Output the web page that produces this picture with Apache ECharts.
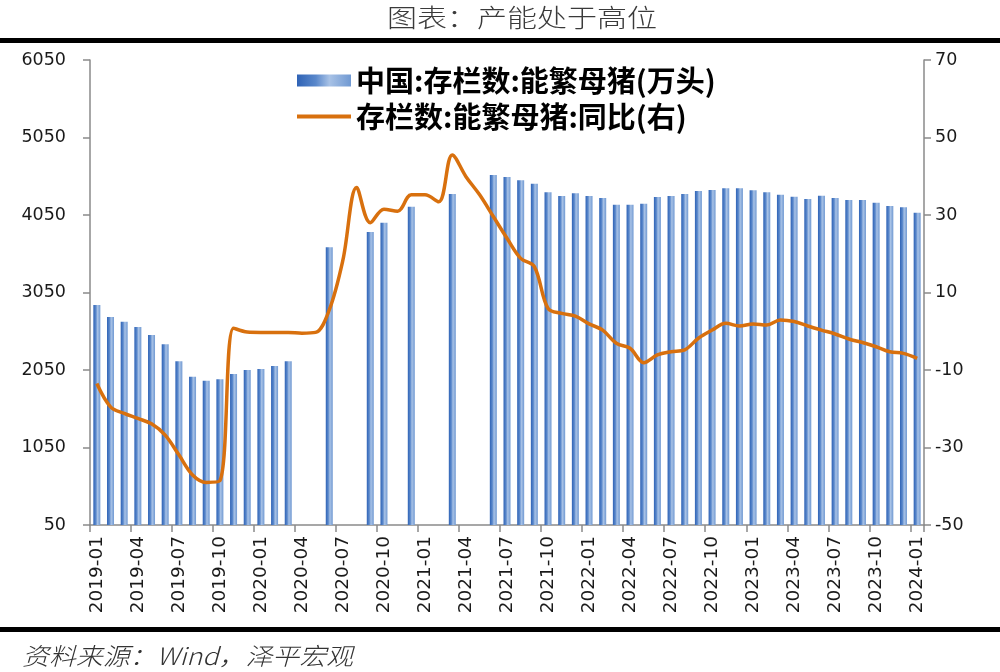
<!DOCTYPE html>
<html>
<head>
<meta charset="utf-8">
<script src="https://cdn.jsdelivr.net/npm/echarts@6/dist/echarts.min.js"></script>
<style>
html,body{margin:0;padding:0;background:#fff;}
#c{width:1000px;height:672px;}
</style>
</head>
<body>
<div id="c"></div>
<script>
var categories = [
'2019-01','2019-02','2019-03','2019-04','2019-05','2019-06','2019-07','2019-08','2019-09','2019-10','2019-11','2019-12',
'2020-01','2020-02','2020-03','2020-04','2020-05','2020-06','2020-07','2020-08','2020-09','2020-10','2020-11','2020-12',
'2021-01','2021-02','2021-03','2021-04','2021-05','2021-06','2021-07','2021-08','2021-09','2021-10','2021-11','2021-12',
'2022-01','2022-02','2022-03','2022-04','2022-05','2022-06','2022-07','2022-08','2022-09','2022-10','2022-11','2022-12',
'2023-01','2023-02','2023-03','2023-04','2023-05','2023-06','2023-07','2023-08','2023-09','2023-10','2023-11','2023-12',
'2024-01'];

// 中国:存栏数:能繁母猪(万头)
var sowStock = [
2889,2734,2673,2605,2502,2382,2162,1964,1912,1930,2000,2050,
2063,2102,2162,null,null,3633,null,null,3831,3951,null,4157,
null,null,4321,null,null,4566,4540,4498,4454,4343,4295,4330,
4295,4269,4183,4183,4196,4282,4295,4321,4360,4372,4394,4394,
4369,4343,4312,4286,4256,4299,4269,4243,4243,4209,4166,4149,
4080];

// 存栏数:能繁母猪:同比(右) %
var sowYoY = [
-13.5,-19.5,-21.2,-22.5,-23.9,-26.8,-31.9,-37.1,-39.0,-38.6,0.8,-0.2,
-0.3,-0.3,-0.3,-0.5,-0.3,5.5,18.4,37.1,28.0,31.5,31.0,35.2,
35.2,33.4,45.5,39.9,35.2,29.6,24.0,18.8,16.7,5.9,4.6,3.9,
1.9,0.3,-3.1,-4.4,-8.1,-6.1,-5.3,-4.8,-1.8,0.3,2.05,1.35,
1.9,1.6,2.9,2.5,1.35,0.3,-0.7,-2.0,-2.9,-4.0,-5.3,-5.7,
-7.0];

var leftTicks = [50,1050,2050,3050,4050,5050,6050];
var rightTicks = [-50,-30,-10,10,30,50,70];

var nameBar = '中国:存栏数:能繁母猪(万头)';
var nameLine = '存栏数:能繁母猪:同比(右)';

var chart = echarts.init(document.getElementById('c'), null, {renderer:'canvas'});
var axisColor = '#8a8a8a';
var labelColor = '#1a1a1a';
var plain = function (v) { return String(v); };

var option = {
  animation: false,
  backgroundColor: '#ffffff',
  grid: {left: 90, right: 76, top: 60, bottom: 147, containLabel: false},
  legend: {
    orient: 'vertical',
    left: 292,
    top: 61,
    itemWidth: 54,
    itemHeight: 12,
    itemGap: 7,
    symbolKeepAspect: true,
    textStyle: {fontFamily: 'Noto Sans CJK SC', fontSize: 29, fontWeight: 'bold', color: '#000'},
    data: [
      {name: nameBar, icon: 'rect'},
      {name: nameLine, icon: 'path://M0,0H54V4H0Z'}
    ]
  },
  xAxis: {
    type: 'category',
    data: categories,
    boundaryGap: true,
    axisLine: {onZero: false, lineStyle: {color: axisColor, width: 1.5}},
    axisTick: {show: true, interval: 2, length: 7, alignWithLabel: false, lineStyle: {color: axisColor, width: 1.5}},
    axisLabel: {interval: 2, rotate: 90, margin: 11, fontFamily: 'DejaVu Sans', fontSize: 18.5, color: labelColor}
  },
  yAxis: [{
    type: 'value',
    min: 50, max: 6050,
    splitLine: {show: false},
    axisLine: {show: true, lineStyle: {color: axisColor, width: 1.5}},
    axisTick: {show: true, length: 7, customValues: leftTicks, lineStyle: {color: axisColor, width: 1.5}},
    axisLabel: {customValues: leftTicks, formatter: plain, margin: 24, fontFamily: 'DejaVu Sans', fontSize: 17.5, color: labelColor}
  }, {
    type: 'value',
    min: -50, max: 70,
    position: 'right',
    splitLine: {show: false},
    axisLine: {show: true, onZero: false, lineStyle: {color: axisColor, width: 1.5}},
    axisTick: {show: true, length: 7, customValues: rightTicks, lineStyle: {color: axisColor, width: 1.5}},
    axisLabel: {customValues: rightTicks, formatter: plain, margin: 11, fontFamily: 'DejaVu Sans', fontSize: 17.5, color: labelColor}
  }],
  series: [{
    name: nameBar,
    type: 'bar',
    yAxisIndex: 0,
    barWidth: 7,
    data: sowStock,
    itemStyle: {
      color: new echarts.graphic.LinearGradient(0, 0, 1, 0, [
        {offset: 0, color: '#2f63b6'},
        {offset: 0.35, color: '#5a88cb'},
        {offset: 0.6, color: '#a8c2e6'},
        {offset: 1, color: '#7099d2'}
      ])
    }
  }, {
    name: nameLine,
    type: 'line',
    yAxisIndex: 1,
    data: sowYoY,
    smooth: 0.35,
    symbol: 'none',
    showSymbol: false,
    z: 5,
    lineStyle: {color: '#d8700e', width: 3.5},
    itemStyle: {color: '#d8700e'}
  }],
  graphic: [
    {type: 'rect', left: 0, top: 38, shape: {width: 1000, height: 5}, style: {fill: '#000'}},
    {type: 'rect', left: 0, top: 627, shape: {width: 1000, height: 5}, style: {fill: '#000'}},
    {type: 'text', x: 522, y: 17, scaleX: 1.2,
      style: {text: '图表：产能处于高位', fontFamily: 'Noto Sans CJK SC', fontSize: 25, fontWeight: 300, fill: '#3a3a3a', align: 'center', verticalAlign: 'middle'}},
    {type: 'text', x: 22, y: 656, scaleX: 1.12,
      style: {text: '资料来源：Wind，泽平宏观', fontFamily: 'Noto Sans CJK SC', fontSize: 24, fontStyle: 'italic', fontWeight: 300, fill: '#333', align: 'left', verticalAlign: 'middle'}}
  ]
};
chart.setOption(option);
</script>
</body>
</html>
